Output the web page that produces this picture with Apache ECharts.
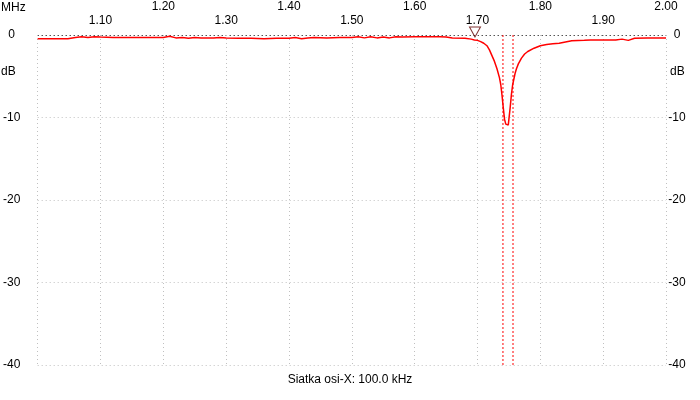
<!DOCTYPE html>
<html><head><meta charset="utf-8">
<script src="https://cdn.jsdelivr.net/npm/echarts@6/dist/echarts.min.js"></script>
<style>html,body{margin:0;padding:0;background:#fff}#c{width:700px;height:400px}</style>
</head><body><div id="c"></div>
<script>
// Frequency (MHz) and level (dB) of the measured trace
const freqMHz = [1.000,1.020,1.048,1.050,1.060,1.070,1.080,1.090,1.100,1.120,1.140,1.160,1.180,1.200,1.210,1.220,1.230,1.240,1.250,1.260,1.280,1.290,1.300,1.320,1.340,1.360,1.380,1.400,1.410,1.420,1.430,1.440,1.460,1.480,1.500,1.510,1.520,1.530,1.540,1.550,1.560,1.570,1.580,1.600,1.620,1.640,1.650,1.660,1.680,1.690,1.695,1.700,1.705,1.710,1.715,1.719,1.723,1.727,1.731,1.735,1.737,1.739,1.741,1.743,1.745,1.746,1.749,1.750,1.752,1.754,1.756,1.758,1.760,1.762,1.765,1.770,1.775,1.780,1.790,1.800,1.810,1.820,1.830,1.850,1.870,1.880,1.900,1.920,1.930,1.940,1.950,1.970,1.990,2.000];
const levelDB = [-0.45,-0.45,-0.45,-0.3,-0.3,-0.2,-0.3,-0.2,-0.25,-0.3,-0.3,-0.3,-0.3,-0.3,-0.15,-0.35,-0.3,-0.4,-0.3,-0.35,-0.35,-0.3,-0.35,-0.4,-0.4,-0.45,-0.4,-0.4,-0.3,-0.45,-0.35,-0.3,-0.35,-0.3,-0.3,-0.2,-0.35,-0.2,-0.35,-0.25,-0.35,-0.2,-0.25,-0.2,-0.2,-0.2,-0.25,-0.35,-0.4,-0.5,-0.6,-0.65,-0.8,-1.0,-1.3,-1.8,-2.5,-3.2,-4.1,-5.2,-6.0,-7.3,-8.8,-10.2,-10.8,-10.9,-10.9,-10.2,-8.8,-7.2,-6.0,-5.3,-4.6,-4.1,-3.5,-2.8,-2.3,-2.0,-1.6,-1.3,-1.15,-1.05,-1.0,-0.7,-0.65,-0.6,-0.6,-0.6,-0.5,-0.65,-0.4,-0.35,-0.35,-0.35];
const markerFreq = [1.696];
const cursorFreqs = [1.7405, 1.7565];
const xTitle = 'Siatka osi-X: 100.0 kHz';

const FONT = 'Liberation Sans, Arial, sans-serif';
const chart = echarts.init(document.getElementById('c'), null, {renderer:'canvas'});
const trace = freqMHz.map((f,i)=>[f, levelDB[i]]);
const gridColor = '#c0c0c0';
const cursorSeries = cursorFreqs.map(f=>({
  type:'line', data:[[f,0],[f,-40]], showSymbol:false, symbol:'none', silent:true,
  lineStyle:{color:'#ff0000', type:[2,2], width:1}, z:2
}));
chart.setOption({
  animation:false,
  backgroundColor:'#fff',
  grid:{left:36, right:34, top:35, bottom:35},
  textStyle:{fontFamily:FONT},
  graphic:[
    {type:'text', left:1, top:2, style:{text:'MHz', font:'12px '+FONT, fill:'#000'}},
    {type:'text', left:1, top:66, style:{text:'dB', font:'12px '+FONT, fill:'#000'}},
    {type:'text', left:670, top:66, style:{text:'dB', font:'12px '+FONT, fill:'#000'}},
    {type:'text', left:'center', top:374, style:{text:xTitle, font:'12px '+FONT, fill:'#000'}}
  ],
  xAxis:{
    type:'value', position:'top', min:1, max:2, interval:0.1,
    axisLine:{show:false}, axisTick:{show:false},
    axisLabel:{
      showMinLabel:false, margin:8, color:'#000', fontSize:12, fontFamily:FONT,
      formatter:(v)=>{ const k=Math.round(v*10); return (k%2===1?'{lo|':'{hi|')+v.toFixed(2)+'}'; },
      rich:{lo:{fontSize:12, fontFamily:FONT, color:'#000'}, hi:{fontSize:12, fontFamily:FONT, color:'#000', padding:[0,0,14,0]}}
    },
    splitLine:{show:true, lineStyle:{color:gridColor, type:[1,3], width:1}}
  },
  yAxis:[{
    type:'value', min:-40, max:0, interval:10, position:'left',
    axisLine:{show:false}, axisTick:{show:false},
    axisLabel:{color:'#000', fontSize:12, fontFamily:FONT, align:'center', margin:26},
    splitLine:{show:true, lineStyle:{color:[gridColor,gridColor,gridColor,gridColor,'#000'], type:[1,3], width:1}}
  },{
    type:'value', min:-40, max:0, interval:10, position:'right',
    axisLine:{show:false}, axisTick:{show:false},
    axisLabel:{color:'#000', fontSize:12, fontFamily:FONT, align:'center', margin:11},
    splitLine:{show:false}
  }],
  series:[{
    type:'line', data:trace, showSymbol:false, symbol:'none',
    lineStyle:{color:'#ff0000', width:1.5}, z:3
  }].concat(cursorSeries).concat([{
    type:'scatter', data:markerFreq.map(f=>[f,0]), symbol:'triangle', symbolRotate:180,
    symbolSize:[11,10], symbolOffset:[0,-3],
    itemStyle:{color:'rgba(255,255,255,0)', borderColor:'#600000', borderWidth:1}, z:4
  }])
});
</script></body></html>
